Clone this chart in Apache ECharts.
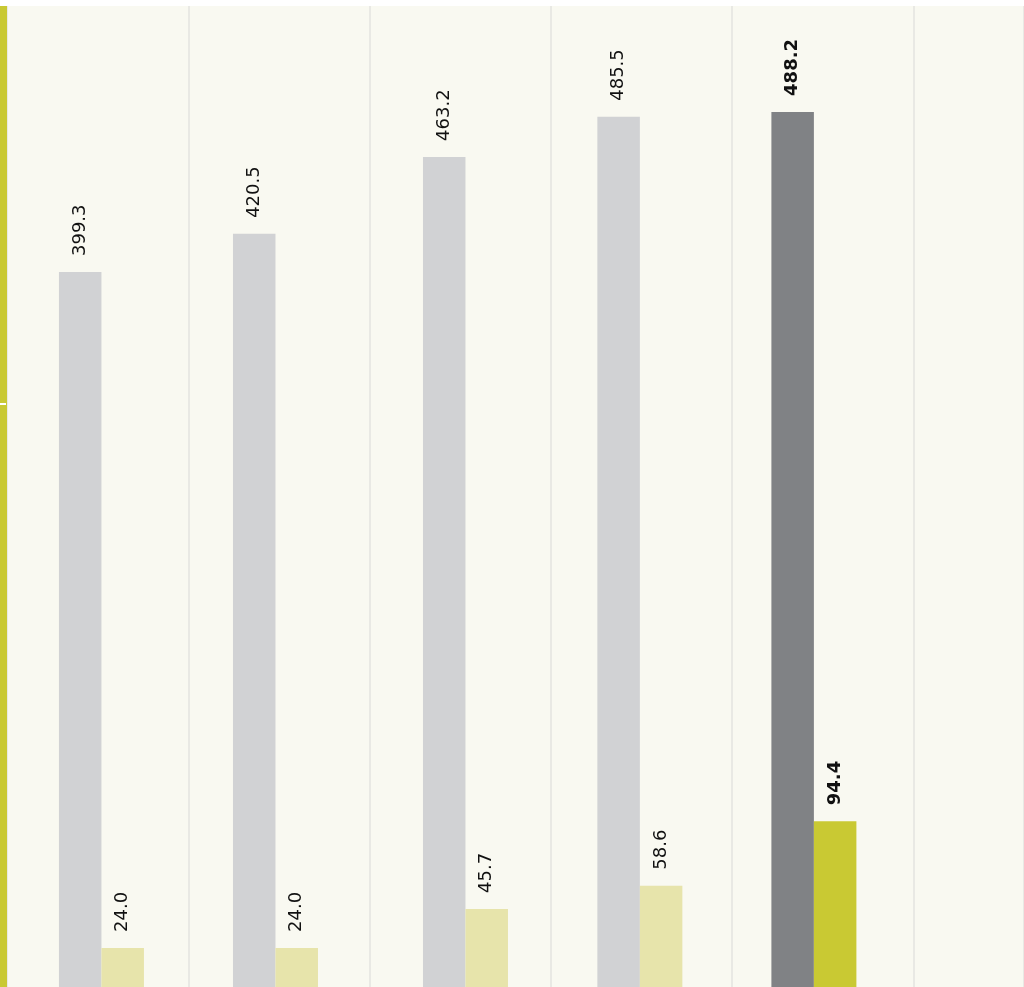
<!DOCTYPE html>
<html><head><meta charset="utf-8">
<script src="https://cdn.jsdelivr.net/npm/echarts@6/dist/echarts.min.js"></script>
<style>html,body{margin:0;padding:0;background:#fff}#c{width:1024px;height:987px}</style>
</head><body><div id="c"></div>
<script>
// positions of each pair along the period axis (gridlines mark whole periods)
const periods = [0.521, 1.481, 2.529, 3.491, 4.451];
const totalValues = [399.3, 420.5, 463.2, 485.5, 488.2];
const subsetValues = [24.0, 24.0, 45.7, 58.6, 94.4];
const highlightIndex = 4;
const axisMarks = [326];

const C = {
  bg: '#f9f9f1', grid: '#e3e3df', total: '#d1d2d4', totalHi: '#808285',
  sub: '#e7e4ab', subHi: '#c9c933', text: '#111111', accent: '#c9c933'
};

function build(values, base, hi) {
  return values.map((v, i) => {
    const item = { value: [periods[i], v], itemStyle: { color: i === highlightIndex ? hi : base } };
    if (i === highlightIndex) item.label = { fontWeight: 'bold' };
    return item;
  });
}

const labelCfg = {
  show: true, position: 'top', rotate: 90, distance: 16,
  align: 'left', verticalAlign: 'middle',
  fontFamily: 'DejaVu Sans', fontSize: 18, color: C.text,
  formatter: p => p.value[1].toFixed(1)
};

const chart = echarts.init(document.getElementById('c'), null, { renderer: 'canvas' });
chart.setOption({
  backgroundColor: '#ffffff',
  animation: false,
  grid: {
    left: 7, top: 6, width: 1017, height: 985.2,
    show: true, backgroundColor: C.bg, borderWidth: 0,
    outerBoundsMode: 'none'
  },
  xAxis: {
    type: 'value', min: 0, max: 5.61, interval: 1,
    axisLine: { show: false, onZero: false }, axisTick: { show: false }, axisLabel: { show: false },
    splitLine: { show: true, lineStyle: { color: C.grid, width: 1.5 } }
  },
  yAxis: [{
    type: 'value', min: 0, max: 547, position: 'left', offset: 3.5,
    axisLine: { show: true, onZero: false, lineStyle: { color: C.accent, width: 7, cap: 'butt' } },
    axisTick: { show: true, inside: true, length: 2.5, customValues: axisMarks, lineStyle: { color: '#ffffff', width: 2 } },
    axisLabel: { show: false }, splitLine: { show: false }
  }, {
    type: 'value', min: 0, max: 547, position: 'left', offset: 3.5,
    axisLine: { show: false, onZero: false },
    axisTick: { show: true, inside: false, length: 3.5, customValues: axisMarks, lineStyle: { color: '#ffffff', width: 2 } },
    axisLabel: { show: false }, splitLine: { show: false }
  }],
  series: [{
    type: 'bar', barWidth: 42.5, barGap: '0%',
    data: build(totalValues, C.total, C.totalHi), label: labelCfg
  }, {
    type: 'bar', barWidth: 42.5, barGap: '0%',
    data: build(subsetValues, C.sub, C.subHi), label: labelCfg
  }]
});
</script></body></html>
